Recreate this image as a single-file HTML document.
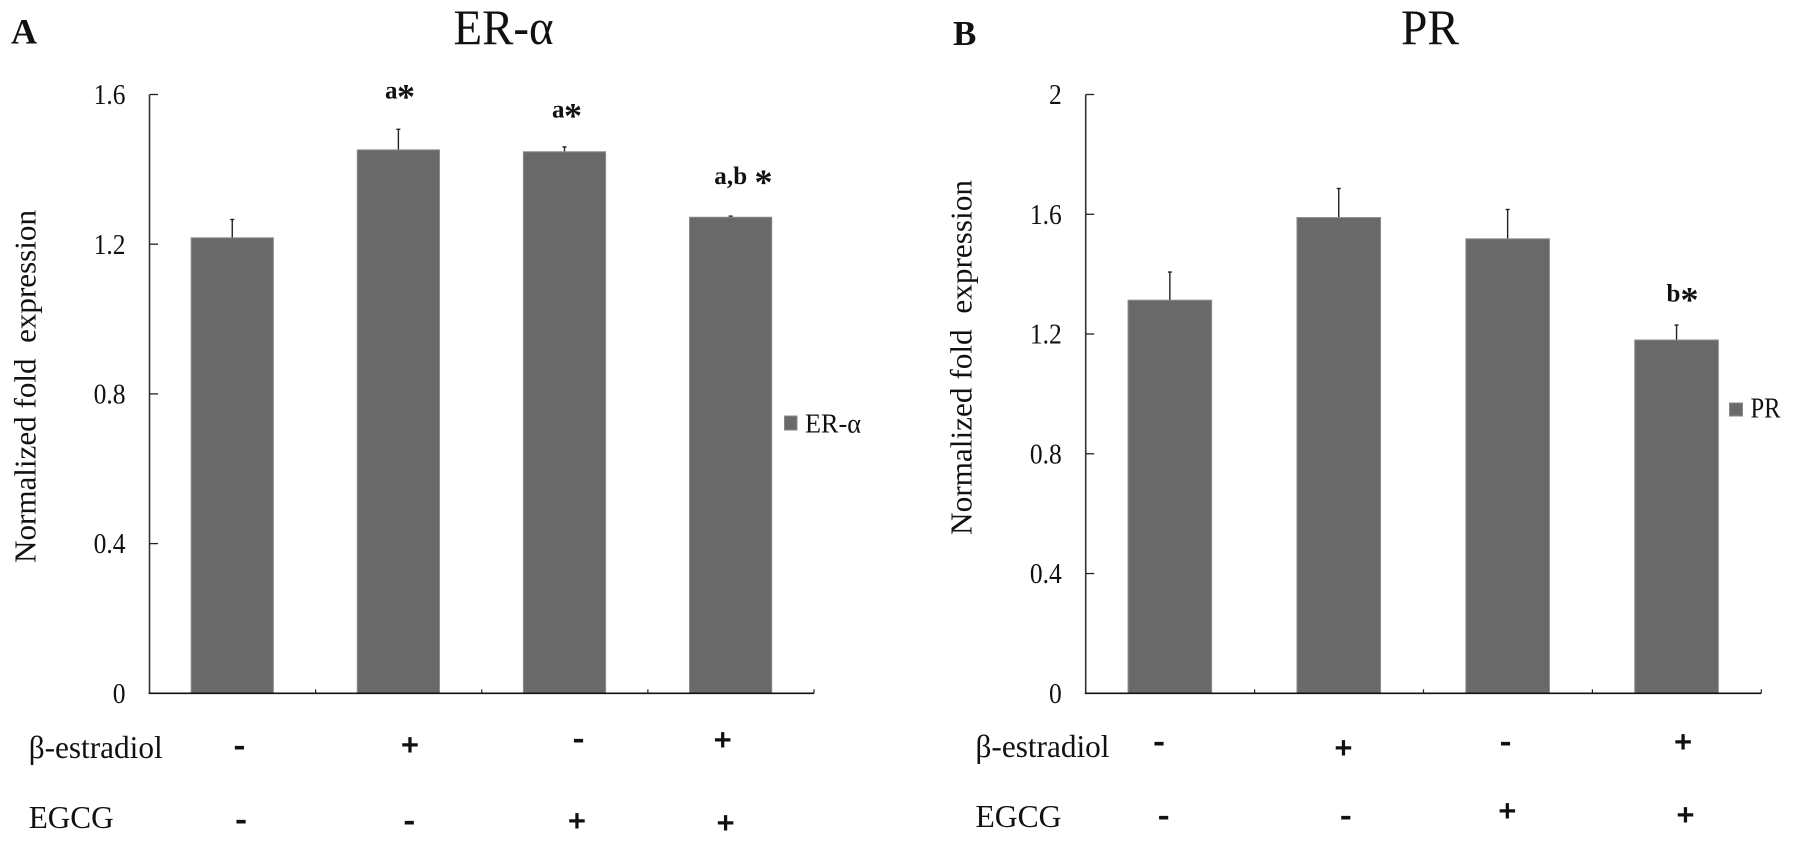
<!DOCTYPE html>
<html>
<head>
<meta charset="utf-8">
<style>
html,body{margin:0;padding:0;background:#fff;}
svg{display:block;}
text{font-family:"Liberation Serif",serif;fill:#111;}
.sign{font-weight:bold;font-size:31px;text-anchor:middle;stroke:#111;stroke-width:1.1px;}
.note{font-weight:bold;font-size:25px;}
.star{font-size:36px;}
</style>
</head>
<body>
<svg id="chart" xmlns="http://www.w3.org/2000/svg" width="1795" height="842" viewBox="0 0 1795 842">
  <rect width="1795" height="842" fill="#fff"/>

  <text x="11" y="43.5" font-size="36" font-weight="bold">A</text>
  <text x="953" y="45" font-size="35" font-weight="bold">B</text>
  <text x="453.5" y="44" font-size="50" textLength="100" lengthAdjust="spacingAndGlyphs">ER-α</text>
  <text x="1401" y="44" font-size="50" textLength="58" lengthAdjust="spacingAndGlyphs">PR</text>

  <text transform="translate(35.5,563) rotate(-90)" font-size="31" textLength="353" lengthAdjust="spacingAndGlyphs" xml:space="preserve">Normalized fold  expression</text>
  <text transform="translate(971.5,535) rotate(-90)" font-size="31" textLength="355" lengthAdjust="spacingAndGlyphs" xml:space="preserve">Normalized fold  expression</text>

  <rect x="784.5" y="416" width="12.5" height="14" fill="#696969" stroke="#8a8a8a" stroke-width="1"/>
  <text x="805" y="432.5" font-size="27" textLength="56" lengthAdjust="spacingAndGlyphs">ER-α</text>
  <rect x="1729.5" y="403" width="13" height="13" fill="#696969" stroke="#8a8a8a" stroke-width="1"/>
  <text x="1750.5" y="417.5" font-size="28" textLength="30" lengthAdjust="spacingAndGlyphs">PR</text>

  <text class="note" x="385" y="98.3">a<tspan class="star" x="397" dy="10">*</tspan></text>
  <text class="note" x="552" y="117.3">a<tspan class="star" x="564" dy="10">*</tspan></text>
  <text class="note" x="714.2" y="184" textLength="33">a,b</text>
  <text class="note star" x="754.5" y="194">*</text>
  <text class="note" x="1666.5" y="301.7">b<tspan class="star" x="1680.5" dy="10">*</tspan></text>

  <text x="28.7" y="758" font-size="32" textLength="134" lengthAdjust="spacingAndGlyphs">β-estradiol</text>
  <text x="28.7" y="828" font-size="32" textLength="85" lengthAdjust="spacingAndGlyphs">EGCG</text>
  <text x="975.5" y="757" font-size="32" textLength="134" lengthAdjust="spacingAndGlyphs">β-estradiol</text>
  <text x="975.5" y="827" font-size="32" textLength="86" lengthAdjust="spacingAndGlyphs">EGCG</text>

  <g>
    <text class="sign" x="239.4" y="755">-</text>
    <text class="sign" x="409.9" y="755">+</text>
    <text class="sign" x="578.6" y="748">-</text>
    <text class="sign" x="722.7" y="750">+</text>
    <text class="sign" x="241" y="829">-</text>
    <text class="sign" x="409.3" y="830">-</text>
    <text class="sign" x="577" y="831">+</text>
    <text class="sign" x="725.6" y="833">+</text>
  </g>
  <g>
    <text class="sign" x="1159.1" y="751">-</text>
    <text class="sign" x="1343.5" y="758">+</text>
    <text class="sign" x="1505.6" y="751">-</text>
    <text class="sign" x="1683.1" y="752">+</text>
    <text class="sign" x="1163.7" y="825">-</text>
    <text class="sign" x="1345.8" y="825">-</text>
    <text class="sign" x="1507.3" y="821">+</text>
    <text class="sign" x="1685.4" y="825">+</text>
  </g>
</svg>
<script>
var categories = ['E2- EGCG-', 'E2+ EGCG-', 'E2- EGCG+', 'E2+ EGCG+'];
var erAlphaValues = [1.217, 1.452, 1.447, 1.272];
var erAlphaErrors = [0.049, 0.055, 0.013, 0.003];
var erAlphaTicks = ['0', '0.4', '0.8', '1.2', '1.6'];
var prValues = [1.313, 1.589, 1.518, 1.180];
var prErrors = [0.094, 0.097, 0.098, 0.050];
var prTicks = ['0', '0.4', '0.8', '1.2', '1.6', '2'];

var NS = 'http://www.w3.org/2000/svg';
var svg = document.getElementById('chart');

function make(tag, attrs) {
  var el = document.createElementNS(NS, tag);
  for (var k in attrs) el.setAttribute(k, attrs[k]);
  svg.appendChild(el);
  return el;
}

function drawPanel(left, right, top, bottom, values, errors, ticks) {
  var yMax = parseFloat(ticks[ticks.length - 1]);
  var band = (right - left) / categories.length;
  function xScale(i) { return left + band * (i + 0.5) - 0.3; }
  function yScale(v) { return bottom - (v / yMax) * (bottom - top); }
  var barWidth = band * 0.495;

  categories.forEach(function (c, i) {
    var tip = yScale(values[i] + errors[i]);
    var stem = make('line', { x1: xScale(i), x2: xScale(i), y1: tip, y2: yScale(values[i]), stroke: '#222', 'stroke-width': 1.4 });
    
    
    var cap = make('line', { x1: xScale(i) - 2, x2: xScale(i) + 2, y1: tip, y2: tip, stroke: '#222', 'stroke-width': 1.4 });
    
    
    var bar = make('rect', { x: xScale(i) - barWidth / 2, y: yScale(values[i]), width: barWidth, height: bottom - yScale(values[i]), fill: '#696969', stroke: '#8c8c8c', 'stroke-width': 1 });
    
    
  });

  var yAxis = make('line', { x1: left, x2: left, y1: top, y2: bottom, stroke: '#333', 'stroke-width': 1.6 });
  
  
  var xAxis = make('line', { x1: left - 0.8, x2: right, y1: bottom, y2: bottom, stroke: '#111', 'stroke-width': 1.6 });
  
  

  ticks.forEach(function (t) {
    var v = parseFloat(t);
    var y = yScale(v);
    if (v > 0) {
      var tick = make('line', { x1: left, x2: left + 8.5, y1: y, y2: y, stroke: '#222', 'stroke-width': 1.3 });
      
      
    }
    var label = make('text', { transform: 'translate(' + (left - 24) + ',' + (y + 9.6) + ') scale(0.88,1)', 'text-anchor': 'end', 'font-size': 29 });
    label.textContent = t;
    
    
  });

  categories.forEach(function (c, i) {
    var x = left + band * (i + 1);
    var tick = make('line', { x1: x, x2: x, y1: bottom - 4, y2: bottom, stroke: '#222', 'stroke-width': 1.2 });
    
    
  });
}

drawPanel(149.5, 814, 94.5, 693.3, erAlphaValues, erAlphaErrors, erAlphaTicks);
drawPanel(1085.7, 1761.3, 94.5, 693.3, prValues, prErrors, prTicks);
</script>
</body>
</html>
